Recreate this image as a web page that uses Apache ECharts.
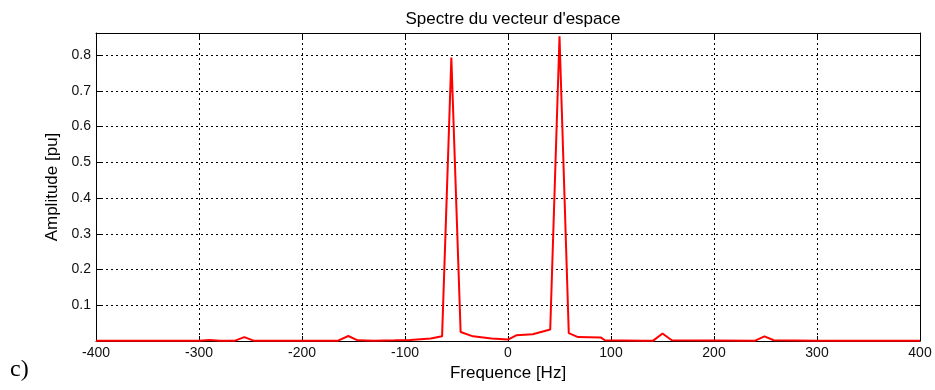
<!DOCTYPE html>
<html>
<head>
<meta charset="utf-8">
<script src="https://cdn.jsdelivr.net/npm/echarts@6/dist/echarts.min.js"></script>
<style>
  html, body { margin: 0; padding: 0; background: #ffffff; }
  #chart { width: 935px; height: 390px; }
  #tag { position: absolute; left: 10px; top: 354px; font-family: "Liberation Serif", "DejaVu Serif", serif; font-size: 24px; line-height: 28px; color: #000; }
</style>
</head>
<body>
<div id="chart"></div>
<div id="tag">c)</div>
<script>
// Spectrum of the space vector: frequency (Hz) and amplitude (pu)
const freqs = [-400, -300, -290, -280, -265, -256, -247, -165, -155, -146, -130, -110, -95, -75,
  -64, -55, -46, -34, -16, 0, 8, 24, 41, 50, 59, 68, 90, 94, 130, 141, 150, 159, 240, 249, 258, 300, 400];
const amps = [0.001, 0.001, 0.003, 0.001, 0.001, 0.011, 0.001, 0.001, 0.014, 0.002, 0.001, 0.002, 0.003, 0.007,
  0.013, 0.793, 0.025, 0.013, 0.007, 0.004, 0.016, 0.019, 0.032, 0.853, 0.022, 0.011, 0.010, 0.002, 0.001, 0.001, 0.021, 0.002, 0.001, 0.013, 0.002, 0.001, 0.001];
const xTicks = [-400, -300, -200, -100, 0, 100, 200, 300, 400];
const yTicks = [0.1, 0.2, 0.3, 0.4, 0.5, 0.6, 0.7, 0.8];

const chart = echarts.init(document.getElementById('chart'));
const font = '"Liberation Sans", Arial, sans-serif';
const gridLine = { show: true, lineStyle: { color: '#000', type: [2, 3], width: 1 } };
const tickStyle = { show: true, inside: true, length: 5, lineStyle: { color: '#000', width: 1 } };
const edge = { show: true, onZero: false, lineStyle: { color: '#000', width: 1 } };

const xBase = {
  type: 'value', min: xTicks[0], max: xTicks[xTicks.length - 1], interval: 100,
  axisLine: edge, axisTick: tickStyle
};
const yBase = {
  type: 'value', min: 0, max: 0.862, interval: 0.1,
  axisLine: edge, axisTick: tickStyle
};

chart.setOption({
  animation: false,
  backgroundColor: '#ffffff',
  title: {
    text: "Spectre du vecteur d'espace", left: 508, top: 6, textAlign: 'center',
    textStyle: { fontFamily: font, fontSize: 17, fontWeight: 'normal', color: '#000' }
  },
  grid: { left: 96, right: 15, top: 33, bottom: 49 },
  xAxis: [
    Object.assign({}, xBase, {
      position: 'bottom',
      name: 'Frequence [Hz]', nameLocation: 'middle', nameGap: 22,
      nameTextStyle: { fontFamily: font, fontSize: 17, color: '#000' },
      splitLine: gridLine,
      axisLabel: {
        fontFamily: font, fontSize: 14, color: '#111', margin: 5,
        formatter: v => xTicks.includes(v) ? String(v) : ''
      }
    }),
    Object.assign({}, xBase, { position: 'top', axisLabel: { show: false }, splitLine: { show: false } })
  ],
  yAxis: [
    Object.assign({}, yBase, {
      position: 'left',
      name: 'Amplitude [pu]', nameLocation: 'middle', nameGap: 32, nameRotate: 90,
      nameTextStyle: { fontFamily: font, fontSize: 17, color: '#000' },
      splitLine: gridLine,
      axisLabel: {
        fontFamily: font, fontSize: 14, color: '#111', margin: 5,
        formatter: v => {
          const t = yTicks.find(k => Math.abs(k - v) < 1e-6);
          return t === undefined ? '' : String(t);
        }
      }
    }),
    Object.assign({}, yBase, { position: 'right', axisLabel: { show: false }, splitLine: { show: false } })
  ],
  series: [{
    type: 'line',
    data: freqs.map((f, i) => [f, amps[i]]),
    showSymbol: false,
    clip: false,
    z: 5,
    lineStyle: { color: '#ff0000', width: 2 }
  }]
});
</script>
</body>
</html>
